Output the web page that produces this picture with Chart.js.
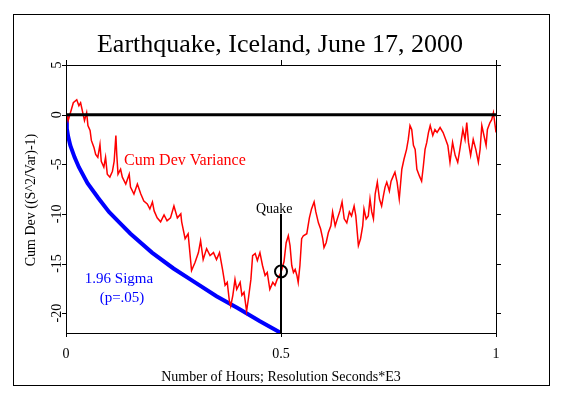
<!DOCTYPE html>
<html>
<head>
<meta charset="utf-8">
<script src="https://cdn.jsdelivr.net/npm/chart.js@4.4.0/dist/chart.umd.min.js"></script>
<style>
  body { margin: 0; background: #fff; }
  #wrap { width: 563px; height: 397px; }
</style>
</head>
<body>
<div id="wrap"><canvas id="chart"></canvas></div>
<script>
// Cum dev variance trace (x = fraction of the hour)
const devX = [
  0.002, 0.005, 0.017, 0.025, 0.030, 0.034, 0.040, 0.043, 0.048, 0.051,
  0.056, 0.059, 0.065, 0.069, 0.074, 0.079, 0.082, 0.088, 0.092, 0.096,
  0.102, 0.108, 0.112, 0.116, 0.118, 0.121, 0.127, 0.131, 0.139, 0.147,
  0.150, 0.158, 0.166, 0.174, 0.181, 0.189, 0.195, 0.201, 0.205, 0.212,
  0.220, 0.228, 0.235, 0.243, 0.251, 0.259, 0.267, 0.269, 0.277, 0.284,
  0.292, 0.300, 0.308, 0.313, 0.319, 0.327, 0.335, 0.343, 0.350, 0.357,
  0.364, 0.370, 0.375, 0.380, 0.383, 0.388, 0.393, 0.397, 0.405, 0.409,
  0.414, 0.420, 0.424, 0.430, 0.434, 0.440, 0.445, 0.451, 0.457, 0.463,
  0.468, 0.474, 0.481, 0.486, 0.491, 0.498, 0.502, 0.507, 0.512, 0.517,
  0.521, 0.525, 0.529, 0.533, 0.537, 0.540, 0.544, 0.548, 0.552, 0.560,
  0.566, 0.571, 0.577, 0.581, 0.587, 0.592, 0.597, 0.600, 0.605, 0.610,
  0.616, 0.620, 0.626, 0.631, 0.637, 0.642, 0.647, 0.653, 0.659, 0.664,
  0.670, 0.674, 0.680, 0.685, 0.690, 0.693, 0.698, 0.703, 0.707, 0.711,
  0.715, 0.719, 0.724, 0.729, 0.734, 0.738, 0.742, 0.746, 0.752, 0.756,
  0.760, 0.765, 0.770, 0.775, 0.781, 0.786, 0.792, 0.796, 0.800, 0.804,
  0.808, 0.812, 0.816, 0.822, 0.827, 0.831, 0.835, 0.839, 0.843, 0.847,
  0.853, 0.858, 0.863, 0.870, 0.877, 0.883, 0.888, 0.893, 0.899, 0.905,
  0.911, 0.916, 0.923, 0.928, 0.932, 0.936, 0.941, 0.947, 0.953, 0.959,
  0.963, 0.967, 0.972, 0.977, 0.980, 0.986, 0.990, 0.994, 0.998, 1.000
];
const devY = [
  0.0, -0.6, 1.2, 1.5, 0.9, 1.2, 0.0, -0.6, 0.2, -1.1,
  -1.6, -2.6, -3.3, -4.0, -4.3, -3.0, -4.7, -5.3, -4.3, -6.0,
  -6.3, -5.7, -4.7, -2.1, -4.0, -6.0, -5.5, -6.3, -7.0, -6.0,
  -7.3, -8.0, -7.0, -8.0, -8.7, -9.0, -9.5, -8.8, -9.7, -10.4,
  -10.8, -10.1, -10.7, -10.4, -9.2, -10.4, -10.0, -10.8, -12.5, -12.0,
  -15.7, -14.9, -13.9, -12.7, -14.6, -13.5, -14.2, -13.9, -14.6, -13.9,
  -15.6, -17.2, -16.9, -18.8, -19.3, -18.2, -16.6, -17.6, -16.9, -18.2,
  -17.9, -19.8, -18.6, -16.6, -14.2, -14.0, -14.7, -13.9, -15.2, -16.2,
  -15.9, -17.6, -16.9, -17.2, -16.6, -16.1, -15.6, -14.8, -12.9, -12.2,
  -13.2, -15.2, -15.9, -15.6, -16.2, -16.9, -15.2, -12.5, -12.2, -12.0,
  -10.4, -9.5, -8.8, -9.8, -10.9, -11.5, -12.5, -13.4, -12.9, -11.9,
  -11.2, -9.8, -11.2, -10.5, -9.7, -8.8, -10.5, -10.9, -9.8, -10.2,
  -9.2, -10.2, -13.2, -12.5, -11.2, -9.5, -10.5, -10.2, -8.5, -9.8,
  -10.5, -8.0, -6.8, -8.5, -9.2, -8.2, -7.3, -6.8, -7.7, -6.7,
  -6.3, -5.8, -6.8, -8.5, -5.5, -4.5, -3.5, -2.5, -1.1, -1.5,
  -3.1, -3.5, -5.5, -6.2, -6.7, -5.2, -3.5, -2.8, -1.8, -1.1,
  -2.1, -1.5, -1.8, -1.3, -1.8, -2.5, -3.1, -4.8, -2.8, -4.1,
  -4.8, -3.5, -1.5, -2.5, -0.8, -2.8, -4.1, -2.5, -3.5, -4.8,
  -3.5, -1.1, -2.1, -3.1, -1.5, -0.8, -0.5, 0.2, -1.1, -1.8
];

// 1.96 sigma envelope
const sigmaX = [0, 0.002, 0.005, 0.01, 0.02, 0.03, 0.05, 0.075, 0.1, 0.125, 0.15, 0.2, 0.25, 0.3, 0.35, 0.4, 0.45, 0.5];
const sigmaY = [0, -1.4, -2.2, -3.1, -4.3, -5.3, -6.9, -8.4, -9.8, -10.9, -12.0, -13.9, -15.5, -16.9, -18.3, -19.5, -20.8, -22.0];

// quake marker
const quakeX = 0.5;
const quakeY = -15.8;
const quakeLineTop = -10;

const xTicks = [0, 0.5, 1];
const yTicks = [5, 0, -5, -10, -15, -20];
const xMin = 0, xMax = 1, yMin = -22, yMax = 5;

const toPoints = (xs, ys) => xs.map((x, i) => ({ x: x, y: ys[i] }));
const SERIF = "'Liberation Serif', 'Times New Roman', serif";

// white page, frame, axes, ticks and all the text
const decorations = {
  id: 'decorations',
  beforeDraw(chart) {
    const ctx = chart.ctx;
    ctx.save();
    ctx.fillStyle = '#fff';
    ctx.fillRect(0, 0, chart.width, chart.height);
    ctx.restore();
  },
  afterDraw(chart) {
    const { ctx, chartArea: a, scales: { x, y } } = chart;
    ctx.save();
    ctx.strokeStyle = '#000';
    ctx.lineWidth = 1;

    // outer frame
    ctx.strokeRect(13.5, 14.5, 536, 371);
    // plot box
    ctx.strokeRect(a.left + 0.5, a.top + 0.5, a.right - a.left, a.bottom - a.top);

    ctx.beginPath();
    xTicks.forEach(v => {
      const px = Math.round(x.getPixelForValue(v)) + 0.5;
      ctx.moveTo(px, a.bottom);
      ctx.lineTo(px, a.bottom + 4);
      ctx.moveTo(px, a.top);
      ctx.lineTo(px, a.top - 5);
    });
    yTicks.forEach(v => {
      const py = Math.round(y.getPixelForValue(v)) + 0.5;
      ctx.moveTo(a.left, py);
      ctx.lineTo(a.left - 4, py);
      ctx.moveTo(a.right, py);
      ctx.lineTo(a.right + 5, py);
    });
    ctx.stroke();

    ctx.fillStyle = '#000';
    ctx.textAlign = 'center';
    ctx.textBaseline = 'alphabetic';

    // title
    ctx.font = '26px ' + SERIF;
    ctx.fillText('Earthquake, Iceland, June 17, 2000', 280, 52);

    // x tick labels
    ctx.font = '14px ' + SERIF;
    xTicks.forEach(v => {
      ctx.fillText(String(v), x.getPixelForValue(v), 358);
    });

    // x axis title
    ctx.fillText('Number of Hours; Resolution Seconds*E3', 281, 381);

    // y tick labels, rotated
    yTicks.forEach(v => {
      ctx.save();
      ctx.translate(57.5, y.getPixelForValue(v));
      ctx.rotate(-Math.PI / 2);
      ctx.textBaseline = 'middle';
      ctx.fillText(String(v), 0, 0);
      ctx.restore();
    });

    // y axis title
    ctx.save();
    ctx.translate(31, 200);
    ctx.rotate(-Math.PI / 2);
    ctx.textBaseline = 'middle';
    ctx.fillText('Cum Dev ((S^2/Var)-1)', 0, 0);
    ctx.restore();

    // quake label
    ctx.textAlign = 'left';
    ctx.fillText('Quake', 256, 213);

    // series labels
    ctx.font = '16px ' + SERIF;
    ctx.fillStyle = '#ff0000';
    ctx.fillText('Cum Dev Variance', 124, 165);
    ctx.fillStyle = '#0000ff';
    ctx.font = '15px ' + SERIF;
    ctx.textAlign = 'center';
    ctx.fillText('1.96 Sigma', 119, 283);
    ctx.fillText('(p=.05)', 122, 302);

    ctx.restore();
  }
};

new Chart(document.getElementById('chart'), {
  type: 'scatter',
  data: {
    datasets: [
      {
        label: 'Zero',
        data: toPoints([xMin, xMax], [0, 0]),
        showLine: true,
        borderColor: '#000',
        borderWidth: 3,
        pointRadius: 0,
        order: 1
      },
      {
        label: 'Cum Dev Variance',
        data: toPoints(devX, devY),
        showLine: true,
        borderColor: '#ff0000',
        borderWidth: 1.5,
        pointRadius: 0,
        order: 2
      },
      {
        label: '1.96 Sigma',
        data: toPoints(sigmaX, sigmaY),
        showLine: true,
        borderColor: '#0000ff',
        borderWidth: 4,
        pointRadius: 0,
        order: 3
      },
      {
        label: 'Quake',
        data: toPoints([quakeX, quakeX], [quakeLineTop, yMin]),
        showLine: true,
        borderColor: '#000',
        borderWidth: 2,
        pointRadius: 0,
        order: 0
      },
      {
        label: 'Quake point',
        data: [{ x: quakeX, y: quakeY }],
        showLine: false,
        pointRadius: 6,
        pointBorderWidth: 2,
        borderColor: '#000',
        backgroundColor: 'rgba(0,0,0,0)',
        order: 0
      }
    ]
  },
  options: {
    responsive: true,
    maintainAspectRatio: false,
    animation: false,
    layout: { padding: { left: 66, right: 67, top: 65, bottom: 64 } },
    plugins: {
      legend: { display: false },
      tooltip: { enabled: false }
    },
    scales: {
      x: { type: 'linear', min: xMin, max: xMax, display: false },
      y: { type: 'linear', min: yMin, max: yMax, display: false }
    }
  },
  plugins: [decorations]
});
</script>
</body>
</html>
